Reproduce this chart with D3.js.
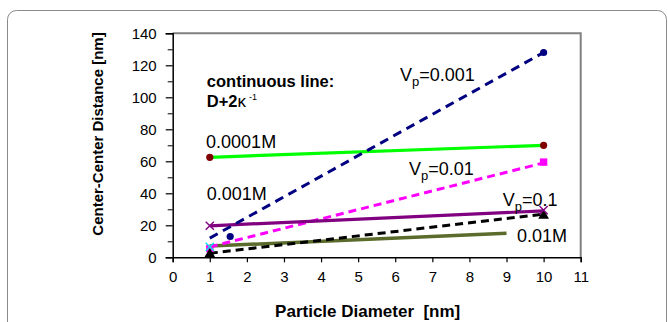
<!DOCTYPE html>
<html>
<head>
<meta charset="utf-8">
<script src="https://cdn.jsdelivr.net/npm/d3@7"></script>
<style>
  html, body { margin: 0; padding: 0; background: #fff; }
  svg { display: block; }
  text { font-family: "Liberation Sans", Arial, sans-serif; }
</style>
</head>
<body>
<svg id="chart" width="668" height="322"></svg>
<script>
// ---------- data ----------
const xTicks = [0, 1, 2, 3, 4, 5, 6, 7, 8, 9, 10, 11];
const yTicks = [0, 20, 40, 60, 80, 100, 120, 140];
const yMinorTicks = [10, 30, 50, 70, 90, 110, 130];

const diam = [1, 10];            // particle diameter (nm)
const vp0001 = [12, 128];        // Vp=0.001 (dashed navy)
const vp001 = [6.5, 59];         // Vp=0.01 (dashed magenta)
const vp01 = [2.5, 27];          // Vp=0.1 (dashed black)
const c00001 = [62.5, 70];       // 0.0001M (solid green)
const c0001 = [19.7, 29];        // 0.001M (solid purple)
const diamC001 = [1, 9];
const c001 = [7, 15];            // 0.01M (solid olive)

const navyDotX = [1.55, 10], navyDotY = [13, 128];
const redDotX = [1, 10], redDotY = [62.5, 70];
const magSqX = [1, 10], magSqY = [5.5, 59.5];
const purpleXX = [1, 10], purpleXY = [19.7, 29.5];
const blackTriX = [1, 10], blackTriY = [2, 26];
const cyanXX = [1], cyanXY = [6.6];

const xTitle = "Particle Diameter  [nm]";
const yTitle = "Center-Center Distance [nm]";

// ---------- layout ----------
const svg = d3.select("#chart");
const L = 172.7, R = 580.7, T = 33.3, B = 257.3;
const x = d3.scaleLinear().domain([0, 11]).range([L, R]);
const y = d3.scaleLinear().domain([0, 140]).range([B, T]);

// outer rounded frame
svg.append("rect").attr("x", 7.5).attr("y", 10.5).attr("width", 659).attr("height", 400)
  .attr("rx", 9).attr("fill", "none").attr("stroke", "#8a8a8a").attr("stroke-width", 1);

// plot frame top/right (gray)
svg.append("path").attr("d", `M${L},${T}H${R}V${B}`).attr("fill", "none")
  .attr("stroke", "#808080").attr("stroke-width", 2);

// axes
const xAxis = d3.axisBottom(x).tickValues(xTicks).tickSize(5).tickPadding(9).tickFormat(d3.format("d"));
const gx = svg.append("g").attr("transform", `translate(0,${B})`).call(xAxis);
const yAxis = d3.axisLeft(y).tickValues(yTicks).tickSize(7).tickPadding(9).tickFormat(d3.format("d"));
const gy = svg.append("g").attr("transform", `translate(${L},0)`).call(yAxis);
svg.append("g").attr("transform", `translate(${L},0)`)
  .call(d3.axisLeft(y).tickValues(yMinorTicks).tickSize(5).tickFormat(""))
  .call(g => g.select(".domain").remove());
[gx, gy].forEach(g => {
  g.select(".domain").attr("stroke", "#000").attr("stroke-width", 1.5);
  g.selectAll(".tick line").attr("stroke", "#000").attr("stroke-width", 1.2);
  g.selectAll(".tick text").attr("font-family", "Liberation Sans, Arial, sans-serif")
    .attr("font-size", 15).attr("fill", "#000");
});
svg.selectAll(".tick line").attr("stroke", "#000");

// ---------- lines ----------
const line = d3.line().x(d => x(d[0])).y(d => y(d[1]));
function drawLine(xs, ys, color, width, dash) {
  svg.append("path").datum(xs.map((v, i) => [v, ys[i]]))
    .attr("d", line).attr("fill", "none").attr("stroke", color)
    .attr("stroke-width", width).attr("stroke-dasharray", dash || null);
}
drawLine(diam, c00001, "#00ff00", 3.2);
drawLine(diamC001, c001, "#5a6b2c", 3.5);
drawLine(diam, vp01, "#000000", 3, "8,5");
drawLine(diam, vp001, "#ff00ff", 3, "8,5");
drawLine(diam, c0001, "#800080", 3.2);
drawLine(diam, vp0001, "#000080", 3, "9,6");

// ---------- markers ----------
function dots(xs, ys, color, r) {
  svg.append("g").selectAll("circle").data(xs.map((v, i) => [v, ys[i]])).join("circle")
    .attr("cx", d => x(d[0])).attr("cy", d => y(d[1])).attr("r", r).attr("fill", color);
}
function symbols(xs, ys, type, size, fill, stroke) {
  svg.append("g").selectAll("path").data(xs.map((v, i) => [v, ys[i]])).join("path")
    .attr("transform", d => `translate(${x(d[0])},${y(d[1])})`)
    .attr("d", d3.symbol().type(type).size(size))
    .attr("fill", fill || "none").attr("stroke", stroke || "none").attr("stroke-width", 1.4);
}
dots(navyDotX, navyDotY, "#000080", 3.6);
dots(redDotX, redDotY, "#800000", 3.6);
symbols(magSqX, magSqY, d3.symbolSquare, 55, "#ff00ff");
symbols(blackTriX, blackTriY, d3.symbolTriangle, 50, "#000");
symbols(purpleXX, purpleXY, d3.symbolX, 45, null, "#800080");
symbols(cyanXX, cyanXY, d3.symbolX, 45, null, "#00e5e5");

// ---------- annotations ----------
function vpLabel(xv, yv, val) {
  const t = svg.append("text").attr("x", x(xv)).attr("y", y(yv)).attr("font-size", 18).attr("fill", "#000");
  t.append("tspan").text("V");
  t.append("tspan").attr("font-size", 13).attr("dy", 5).text("p");
  t.append("tspan").attr("dy", -5).text("=" + val);
}
vpLabel(6.13, 110.2, "0.001");
vpLabel(6.37, 51.4, "0.01");
vpLabel(8.9, 32, "0.1");

function plainLabel(xv, yv, s) {
  svg.append("text").attr("x", x(xv)).attr("y", y(yv)).attr("font-size", 18).attr("fill", "#000").text(s);
}
plainLabel(9.28, 9.6, "0.01M");
plainLabel(0.9, 68.3, "0.0001M");
plainLabel(0.92, 35.8, "0.001M");

svg.append("text").attr("x", x(0.92)).attr("y", y(106.2)).attr("font-size", 16.5)
  .attr("font-weight", "bold").attr("fill", "#000").text("continuous line:");
const dk = svg.append("text").attr("x", x(0.92)).attr("y", y(93.8)).attr("font-size", 16.5)
  .attr("font-weight", "bold").attr("fill", "#000");
dk.append("tspan").text("D+2");
dk.append("tspan").attr("font-weight", "normal").attr("font-size", 17).text("κ");
dk.append("tspan").attr("font-weight", "normal").attr("font-size", 9).attr("dy", -7).attr("dx", 3).text("-1");

// axis titles
svg.append("text").attr("x", (L + R) / 2 - 9).attr("y", 317).attr("text-anchor", "middle")
  .attr("font-size", 17).attr("font-weight", "bold").attr("fill", "#000")
  .attr("xml:space", "preserve").style("white-space", "pre").text(xTitle);
svg.append("text").attr("transform", `translate(103,134) rotate(-90)`).attr("text-anchor", "middle")
  .attr("font-size", 15).attr("font-weight", "bold").attr("fill", "#000").text(yTitle);
</script>
</body>
</html>
